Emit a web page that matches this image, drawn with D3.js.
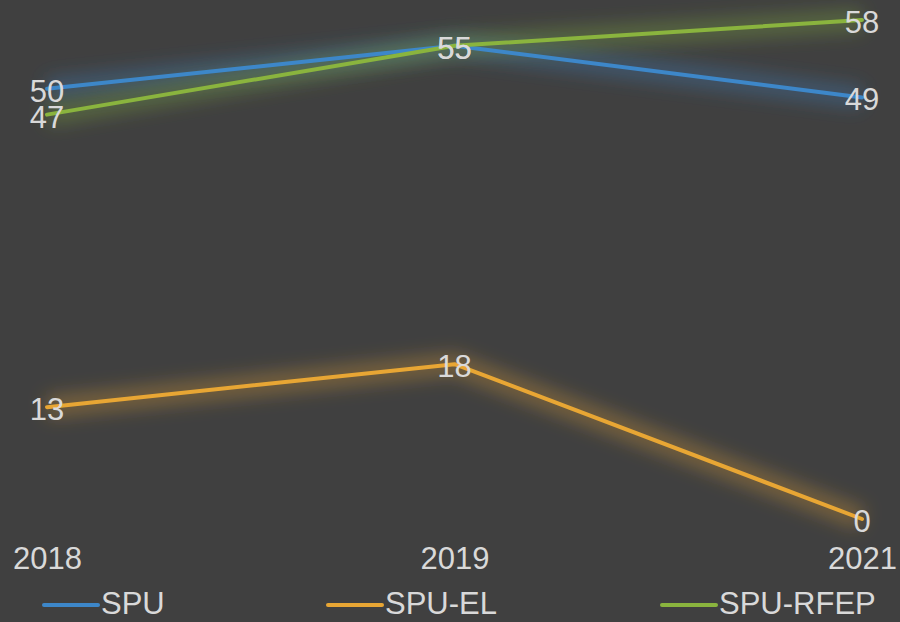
<!DOCTYPE html>
<html><head><meta charset="utf-8">
<script src="https://cdn.jsdelivr.net/npm/d3@7"></script>
<style>html,body{margin:0;padding:0;background:#404040;}svg{display:block;}</style>
</head><body>
<svg id="c" width="900" height="622"></svg>
<script>
const categories = ["2018", "2019", "2021"];
const seriesNames = ["SPU", "SPU-EL", "SPU-RFEP"];
const spu = [50, 55, 49];
const spuEL = [13, 18, 0];
const spuRFEP = [47, 55, 58];
const colors = ["#3d87c9", "#e8a634", "#8ab43e"];

const series = [
  {name: seriesNames[0], values: spu, color: colors[0]},
  {name: seriesNames[1], values: spuEL, color: colors[1]},
  {name: seriesNames[2], values: spuRFEP, color: colors[2]}
];

const svg = d3.select("#c");
svg.append("rect").attr("width", 900).attr("height", 622).attr("fill", "#404040");

const defs = svg.append("defs");
const f = defs.append("filter").attr("id", "glow").attr("x", "-20%").attr("y", "-80%").attr("width", "140%").attr("height", "260%");
f.append("feGaussianBlur").attr("stdDeviation", 9);

const x = d3.scalePoint().domain(categories).range([47, 862]);
const y = d3.scaleLinear().domain([0, 58]).range([519, 20]);

const line = d3.line().x((d, i) => x(categories[i])).y(d => y(d));

// glows
series.forEach(s => {
  svg.append("path").datum(s.values).attr("d", line)
    .attr("fill", "none").attr("stroke", s.color).attr("stroke-width", 22)
    .attr("stroke-opacity", 0.32).attr("filter", "url(#glow)");
});
series.forEach(s => {
  svg.append("path").datum(s.values).attr("d", line)
    .attr("fill", "none").attr("stroke", s.color).attr("stroke-width", 4)
    .attr("stroke-linecap", "round").attr("stroke-linejoin", "round");
});

const font = "'Liberation Sans', Arial, sans-serif";
series.forEach(s => {
  svg.append("g").selectAll("text").data(s.values).join("text")
    .attr("x", (d, i) => x(categories[i]))
    .attr("y", d => y(d) + 13)
    .attr("text-anchor", "middle")
    .attr("font-family", font).attr("font-size", 31)
    .attr("fill", "#d9d9d9")
    .text(d => d);
});

// x axis labels
const xAxis = d3.axisBottom(x).tickSize(0).tickPadding(0);
const gx = svg.append("g").attr("transform", "translate(0,569)").call(xAxis);
gx.select(".domain").remove();
gx.selectAll("text").attr("dy", 0).attr("font-family", font).attr("font-size", 31).attr("fill", "#d9d9d9");

// legend
const legendX = [44, 328, 662];
series.forEach((s, i) => {
  const g = svg.append("g").attr("transform", `translate(${legendX[i]},605)`);
  g.append("line").attr("x1", 0).attr("x2", 54).attr("y1", 0).attr("y2", 0)
    .attr("stroke", s.color).attr("stroke-width", 4).attr("stroke-linecap", "round");
  g.append("text").attr("x", 57).attr("y", 9).attr("font-family", font).attr("font-size", 31)
    .attr("fill", "#d9d9d9").text(s.name);
});
</script>
</body></html>
